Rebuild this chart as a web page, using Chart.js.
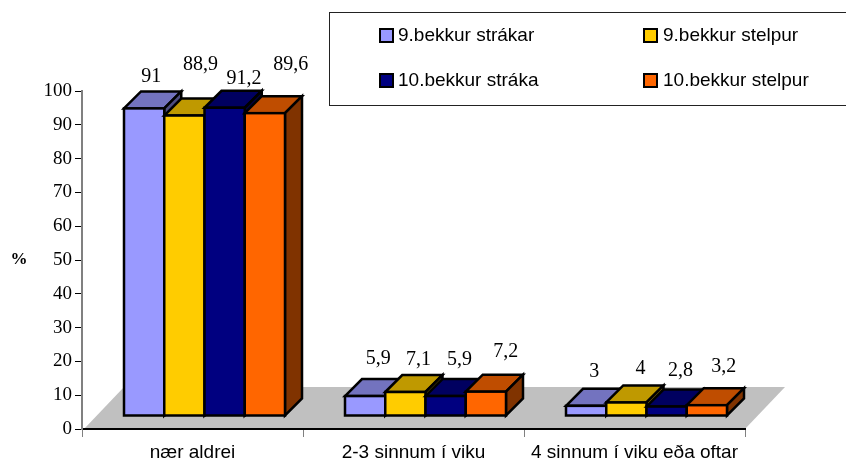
<!DOCTYPE html>
<html>
<head>
<meta charset="utf-8">
<style>
  html, body { margin: 0; padding: 0; background: #fff; }
  canvas { display: block; }
</style>
<script src="https://cdn.jsdelivr.net/npm/chart.js@4"></script>
</head>
<body>
<canvas id="chart" width="846" height="464"></canvas>
<script>
const categories = ['nær aldrei', '2-3 sinnum í viku', '4 sinnum í viku eða oftar'];
const seriesNames = ['9.bekkur strákar', '9.bekkur stelpur', '10.bekkur stráka', '10.bekkur stelpur'];
const strakar9 = [91, 5.9, 3];
const stelpur9 = [88.9, 7.1, 4];
const straka10 = [91.2, 5.9, 2.8];
const stelpur10 = [89.6, 7.2, 3.2];
const seriesValues = [strakar9, stelpur9, straka10, stelpur10];

// front, top and side colours of each series
const frontColors = ['#9999ff', '#ffcc00', '#000080', '#ff6600'];
const topColors = ['#7373bf', '#bf9900', '#000060', '#bf4d00'];
const sideColors = ['#4d4d80', '#806600', '#000040', '#803300'];

// where the excel labels ended up, relative to bar centre / front top
const labelOffsets = [
  [[7, -32], [13, -37], [8, -34]],
  [[16, -51], [13, -32], [14, -34]],
  [[19.5, -29], [14, -36], [14, -36]],
  [[26, -48], [20, -40], [17, -38]]
];

// the whole bar group is pushed back from the axis, then extruded
const shiftX = 12, shiftY = -13;
const depthX = 17, depthY = -17;
const edgeWidth = 2.5;

function drawExtrusion(ctx, meta, i) {
  ctx.lineWidth = edgeWidth;
  ctx.strokeStyle = '#000';
  meta.data.forEach(bar => {
    const l = bar.x - bar.width / 2, r = bar.x + bar.width / 2;
    const t = bar.y, b = bar.base;
    // top
    ctx.fillStyle = topColors[i];
    ctx.beginPath();
    ctx.moveTo(l, t);
    ctx.lineTo(l + depthX, t + depthY);
    ctx.lineTo(r + depthX, t + depthY);
    ctx.lineTo(r, t);
    ctx.closePath();
    ctx.fill();
    ctx.stroke();
    // side
    ctx.fillStyle = sideColors[i];
    ctx.beginPath();
    ctx.moveTo(r, t);
    ctx.lineTo(r + depthX, t + depthY);
    ctx.lineTo(r + depthX, b + depthY);
    ctx.lineTo(r, b);
    ctx.closePath();
    ctx.fill();
    ctx.stroke();
  });
}

// chart.js insets its border, excel centres it on the edge
function drawFrontEdge(ctx, meta) {
  ctx.lineWidth = edgeWidth;
  ctx.strokeStyle = '#000';
  meta.data.forEach(bar => {
    ctx.strokeRect(bar.x - bar.width / 2, bar.y, bar.width, bar.base - bar.y);
  });
}

const threeD = {
  id: 'threeD',
  beforeDraw(chart) {
    const { ctx, chartArea: a } = chart;
    ctx.save();
    ctx.fillStyle = '#c0c0c0';
    ctx.beginPath();
    ctx.moveTo(a.left + 2, a.bottom);
    ctx.lineTo(a.right, a.bottom);
    ctx.lineTo(a.right + 40, a.bottom - 42);
    ctx.lineTo(a.left + 42, a.bottom - 42);
    ctx.closePath();
    ctx.fill();
    ctx.restore();
  },
  // paint left to right, chart.js would go right to left and the overlaps come out wrong
  beforeDatasetsDraw(chart) {
    const ctx = chart.ctx;
    seriesNames.forEach((name, i) => {
      const meta = chart.getDatasetMeta(i);
      ctx.save();
      ctx.translate(shiftX, shiftY);
      drawExtrusion(ctx, meta, i);
      meta.controller.draw();
      drawFrontEdge(ctx, meta);
      ctx.restore();
    });
    return false;
  },
  afterDraw(chart) {
    const ctx = chart.ctx;
    ctx.save();

    // value labels
    ctx.font = '20px "Liberation Serif"';
    ctx.fillStyle = '#000';
    ctx.textAlign = 'center';
    ctx.textBaseline = 'middle';
    seriesValues.forEach((vals, i) => {
      const meta = chart.getDatasetMeta(i);
      vals.forEach((v, j) => {
        const bar = meta.data[j];
        const off = labelOffsets[i][j];
        ctx.fillText(String(v).replace('.', ','), bar.x + shiftX + off[0], bar.y + shiftY + off[1]);
      });
    });

    // % title
    ctx.font = 'bold 17px "Liberation Serif"';
    ctx.fillText('%', 19, 260);

    // legend box
    ctx.strokeStyle = '#222';
    ctx.lineWidth = 1;
    ctx.strokeRect(329.5, 12.5, 530, 93);
    const legX = [380, 644], legTextX = [398, 663], legY = [36, 81];
    ctx.font = '19px "Liberation Sans"';
    ctx.textAlign = 'left';
    seriesNames.forEach((name, i) => {
      const col = i % 2, row = i < 2 ? 0 : 1;
      ctx.fillStyle = frontColors[i];
      ctx.fillRect(legX[col], legY[row] - 7, 13, 13);
      ctx.strokeStyle = '#000';
      ctx.lineWidth = 2;
      ctx.strokeRect(legX[col], legY[row] - 7, 13, 13);
      ctx.fillStyle = '#000';
      ctx.fillText(name, legTextX[col], legY[row]);
    });
    ctx.restore();
  }
};

new Chart(document.getElementById('chart'), {
  type: 'bar',
  data: {
    labels: categories,
    datasets: seriesNames.map((name, i) => ({
      label: name,
      data: seriesValues[i],
      backgroundColor: frontColors[i],
      borderWidth: 0,
      clip: false
    }))
  },
  options: {
    responsive: false,
    animation: false,
    events: [],
    layout: { padding: { left: 0, top: 91, right: 101, bottom: 0 } },
    categoryPercentage: 0.7285,
    barPercentage: 1,
    plugins: { legend: { display: false }, tooltip: { enabled: false } },
    scales: {
      x: {
        afterFit(scale) { scale.height = 35; },
        grid: { offset: true, drawOnChartArea: false, drawTicks: true, tickLength: 8, color: '#808080', lineWidth: 1 },
        border: { display: true, color: '#000', width: 2 },
        ticks: { color: '#000', padding: 4, maxRotation: 0, font: { family: 'Liberation Sans', size: 19 } }
      },
      y: {
        min: 0,
        max: 100,
        afterFit(scale) { scale.width = 82; },
        grid: { drawOnChartArea: false, drawTicks: true, tickLength: 7, color: '#000', lineWidth: 1 },
        border: { display: true, color: '#808080', width: 2 },
        ticks: { stepSize: 10, color: '#000', padding: 3, font: { family: 'Liberation Serif', size: 19 } }
      }
    }
  },
  plugins: [threeD]
});
</script>
</body>
</html>
